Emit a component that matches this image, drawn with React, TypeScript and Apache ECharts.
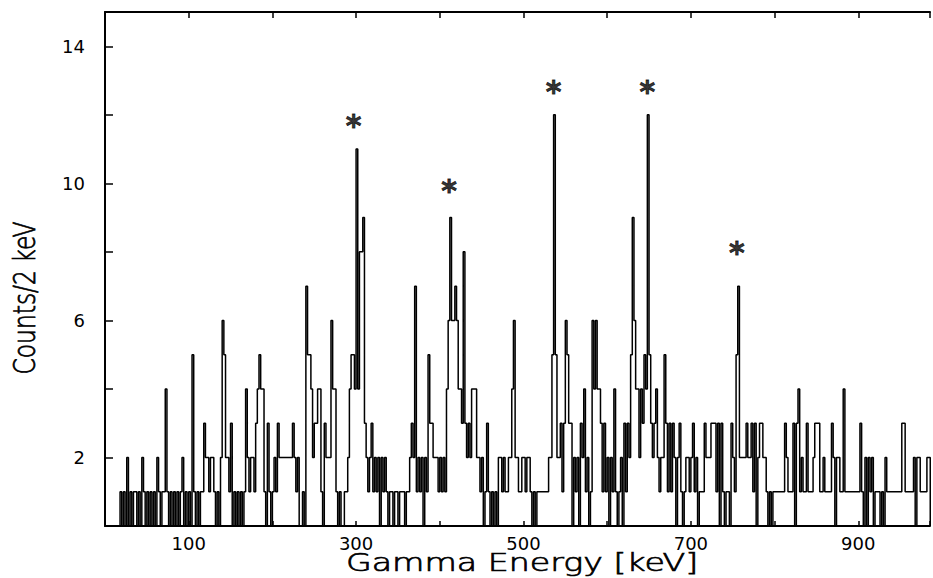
import React, { useEffect, useRef } from "react";
import * as echarts from "echarts";

// Histogram: 2 keV bins starting at 16 keV
const startEnergy = 16;
const binWidth = 2;
const counts: number[] = [
  0, 1, 0, 1, 0, 2, 0, 1, 0, 1, // 16-34
  1, 0, 1, 0, 2, 1, 0, 1, 0, 1, // 36-54
  0, 1, 0, 2, 1, 0, 1, 1, 4, 1, // 56-74
  0, 1, 0, 1, 0, 1, 0, 1, 2, 0, // 76-94
  1, 0, 1, 0, 5, 1, 0, 1, 0, 1, // 96-114
  1, 3, 2, 2, 1, 2, 2, 1, 0, 1, // 116-134
  0, 2, 6, 5, 2, 2, 1, 3, 0, 1, // 136-154
  0, 1, 0, 1, 0, 1, 4, 2, 1, 2, // 156-174
  2, 1, 3, 4, 5, 4, 4, 1, 0, 3, // 176-194
  1, 0, 1, 2, 1, 3, 2, 2, 2, 2, // 196-214
  2, 2, 2, 2, 3, 2, 1, 2, 0, 0, // 216-234
  1, 0, 7, 5, 5, 4, 2, 3, 3, 4, // 236-254
  4, 1, 0, 3, 2, 2, 2, 6, 4, 4, // 256-274
  1, 0, 1, 0, 0, 1, 1, 2, 4, 5, // 276-294
  5, 4, 11, 4, 8, 8, 9, 3, 2, 1, // 296-314
  2, 3, 1, 2, 1, 2, 0, 2, 1, 2, // 316-334
  1, 0, 1, 1, 0, 1, 1, 0, 1, 1, // 336-354
  1, 0, 1, 1, 2, 3, 2, 7, 1, 2, // 356-374
  1, 2, 0, 2, 1, 5, 3, 3, 2, 2, // 376-394
  2, 1, 2, 1, 2, 1, 4, 6, 9, 6, // 396-414
  6, 7, 6, 4, 4, 3, 8, 3, 2, 3, // 416-434
  2, 4, 4, 4, 2, 2, 1, 2, 0, 1, // 436-454
  3, 1, 0, 1, 0, 1, 0, 2, 2, 1, // 456-474
  2, 1, 1, 2, 2, 4, 6, 2, 2, 1, // 476-494
  1, 2, 2, 1, 2, 2, 1, 0, 1, 0, // 496-514
  1, 1, 1, 1, 1, 1, 1, 2, 2, 5, // 516-534
  12, 5, 2, 2, 3, 1, 3, 6, 5, 3, // 536-554
  3, 0, 2, 1, 2, 0, 3, 2, 4, 1, // 556-574
  2, 0, 1, 6, 4, 6, 4, 4, 3, 1, // 576-594
  3, 1, 2, 0, 2, 1, 4, 1, 0, 1, // 596-614
  2, 0, 3, 1, 3, 2, 5, 9, 6, 4, // 616-634
  4, 2, 4, 3, 5, 4, 12, 5, 3, 2, // 636-654
  3, 4, 2, 1, 2, 2, 5, 3, 1, 3, // 656-674
  1, 3, 2, 0, 2, 3, 1, 0, 1, 2, // 676-694
  2, 1, 2, 3, 1, 2, 0, 1, 1, 1, // 696-714
  3, 2, 2, 2, 3, 3, 3, 1, 3, 0, // 716-734
  3, 1, 0, 1, 1, 0, 3, 2, 1, 5, // 736-754
  7, 2, 2, 2, 2, 3, 2, 2, 3, 1, // 756-774
  3, 0, 2, 3, 3, 2, 2, 1, 0, 1, // 776-794
  0, 1, 1, 1, 1, 1, 1, 1, 3, 2, // 796-814
  1, 1, 1, 3, 0, 3, 4, 1, 2, 1, // 816-834
  1, 3, 1, 1, 1, 2, 3, 3, 3, 1, // 836-854
  1, 2, 1, 1, 1, 1, 3, 2, 0, 2, // 856-874
  2, 1, 1, 4, 1, 1, 1, 1, 1, 1, // 876-894
  1, 1, 1, 3, 1, 0, 2, 0, 2, 1, // 896-914
  2, 0, 1, 1, 1, 0, 1, 0, 2, 1, // 916-934
  1, 1, 1, 1, 1, 1, 1, 1, 3, 3, // 936-954
  1, 1, 1, 1, 1, 2, 0, 2, 2, 1, // 956-974
  1, 1, 1, 2, 2, // 976-984
];

// Marked peaks (asterisks)
const peakEnergies = [297, 411, 536, 648, 755];
const asteriskLevels = [11.8, 9.9, 12.8, 12.8, 8.1];

const xTickLabels = [100, 300, 500, 700, 900];
const yTickLabels = [2, 6, 10, 14];

const xAxisTitle = "Gamma Energy [keV]";
const yAxisTitle = "Counts/2 keV";

export default function App() {
  const ref = useRef<HTMLDivElement>(null);

  useEffect(() => {
    document.body.style.margin = "0";
    const chart = echarts.init(ref.current!, undefined, { renderer: "svg" });

    const stepData: number[][] = [[startEnergy, 0]];
    counts.forEach((c, i) => stepData.push([startEnergy + i * binWidth, c]));
    stepData.push([startEnergy + counts.length * binWidth, 0]);

    const tickFont = {
      color: "#000",
      fontSize: 18,
      fontFamily: "DejaVu Sans",
    };

    const option: any = {
      animation: false,
      backgroundColor: "#fff",
      grid: { left: 105, top: 12, right: 0, bottom: 52 },
      xAxis: [
        {
          type: "value",
          min: 0,
          max: 985.7,
          interval: 100,
          position: "bottom",
          axisLine: { show: true, lineStyle: { color: "#000", width: 2 } },
          axisTick: { show: true, inside: true, length: 5, lineStyle: { color: "#000", width: 1.5 } },
          axisLabel: {
            ...tickFont,
            margin: 8,
            formatter: (v: number) => (xTickLabels.includes(v) ? String(v) : ""),
          },
          splitLine: { show: false },
        },
        {
          type: "value",
          min: 0,
          max: 985.7,
          interval: 100,
          position: "top",
          axisLine: { show: true, onZero: false, lineStyle: { color: "#000", width: 2 } },
          axisTick: { show: true, inside: true, length: 6, lineStyle: { color: "#000", width: 1.5 } },
          axisLabel: { show: false },
          splitLine: { show: false },
        },
      ],
      yAxis: {
        type: "value",
        min: 0,
        max: 15,
        interval: 2,
        axisLine: { show: true, lineStyle: { color: "#000", width: 2 } },
        axisTick: { show: true, inside: true, length: 8, lineStyle: { color: "#000", width: 1.5 } },
        axisLabel: {
          ...tickFont,
          margin: 20,
          formatter: (v: number) => (yTickLabels.includes(v) ? String(v) : ""),
        },
        splitLine: { show: false },
      },
      series: [
        {
          type: "line",
          step: "end",
          data: stepData,
          showSymbol: false,
          symbol: "none",
          lineStyle: { color: "#000", width: 1.5 },
          clip: true,
          z: 2,
        },
        {
          type: "scatter",
          data: peakEnergies.map((e, i) => [e, asteriskLevels[i]]),
          symbol: "circle",
          symbolSize: 1,
          itemStyle: { color: "rgba(0,0,0,0)" },
          label: {
            show: true,
            position: "inside",
            formatter: "*",
            color: "#000",
            fontSize: 30,
            fontWeight: "bold",
            fontFamily: "DejaVu Sans",
            textBorderColor: "#000",
            textBorderWidth: 0.8,
            offset: [0, 4],
          },
          z: 3,
        },
      ],
      graphic: [
        {
          type: "text",
          x: 522,
          y: 563,
          scaleX: 1.33,
          style: {
            text: xAxisTitle,
            fontSize: 25,
            fontWeight: 200,
            fontFamily: "DejaVu Sans",
            fill: "#000",
            stroke: "#000",
            lineWidth: 0.7,
            align: "center",
            verticalAlign: "middle",
            textAlign: "center",
            textVerticalAlign: "middle",
          },
        },
        {
          type: "text",
          x: 24,
          y: 298,
          rotation: Math.PI / 2,
          scaleX: 0.78,
          style: {
            text: yAxisTitle,
            fontSize: 30,
            fontWeight: 200,
            fontFamily: "DejaVu Sans",
            fill: "#000",
            stroke: "#000",
            lineWidth: 0.8,
            align: "center",
            verticalAlign: "middle",
            textAlign: "center",
            textVerticalAlign: "middle",
          },
        },
      ],
    };

    chart.setOption(option);
    return () => chart.dispose();
  }, []);

  return (
    <div
      ref={ref}
      style={{ position: "fixed", left: 0, top: 0, width: 933, height: 578 }}
    />
  );
}
